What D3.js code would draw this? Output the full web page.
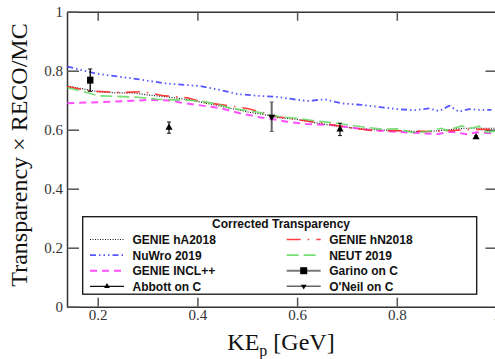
<!DOCTYPE html>
<html>
<head>
<meta charset="utf-8">
<script src="https://cdn.jsdelivr.net/npm/d3@7"></script>
<style>
  html, body { margin: 0; padding: 0; background: #fff; }
  svg { display: block; }
</style>
</head>
<body>
<div id="chart"></div>
<script>
// Curves: [KE_p (GeV), transparency x RECO/MC]
const genieHA2018 = [[0.139,0.748],[0.175,0.737],[0.2,0.729],[0.235,0.725],[0.27,0.725],[0.3,0.718],[0.335,0.712],[0.385,0.701],[0.425,0.687],[0.465,0.673],[0.505,0.659],[0.545,0.648],[0.56,0.641],[0.595,0.636],[0.635,0.624],[0.67,0.614],[0.705,0.607],[0.745,0.601],[0.77,0.599],[0.8,0.596],[0.855,0.593],[0.9,0.599],[0.935,0.605],[0.965,0.605],[1.0,0.605]];
const nuwro2019 = [[0.139,0.814],[0.2,0.789],[0.27,0.774],[0.335,0.757],[0.405,0.748],[0.445,0.735],[0.48,0.721],[0.52,0.715],[0.56,0.711],[0.62,0.697],[0.655,0.703],[0.69,0.689],[0.73,0.684],[0.77,0.676],[0.8,0.67],[0.835,0.666],[0.865,0.672],[0.885,0.663],[0.905,0.681],[0.925,0.661],[0.945,0.67],[0.965,0.667],[0.99,0.667]];
const genieINCL = [[0.139,0.69],[0.2,0.693],[0.27,0.698],[0.3,0.701],[0.35,0.699],[0.365,0.692],[0.4,0.684],[0.445,0.673],[0.485,0.656],[0.525,0.642],[0.56,0.633],[0.58,0.627],[0.62,0.619],[0.67,0.616],[0.71,0.607],[0.745,0.599],[0.8,0.593],[0.85,0.588],[0.88,0.585],[0.91,0.593],[0.94,0.585],[0.96,0.591],[0.99,0.588]];
const genieHN2018 = [[0.139,0.746],[0.185,0.731],[0.25,0.726],[0.29,0.729],[0.33,0.716],[0.38,0.708],[0.415,0.692],[0.46,0.682],[0.5,0.672],[0.535,0.657],[0.56,0.644],[0.6,0.634],[0.64,0.625],[0.67,0.617],[0.7,0.608],[0.745,0.598],[0.78,0.597],[0.82,0.596],[0.87,0.594],[0.91,0.597],[0.95,0.601],[1.0,0.601]];
const neut2019 = [[0.139,0.742],[0.175,0.728],[0.2,0.715],[0.24,0.713],[0.28,0.71],[0.32,0.703],[0.355,0.701],[0.405,0.698],[0.43,0.69],[0.47,0.672],[0.52,0.66],[0.565,0.644],[0.6,0.639],[0.64,0.629],[0.68,0.622],[0.73,0.61],[0.77,0.602],[0.8,0.603],[0.83,0.591],[0.86,0.593],[0.89,0.605],[0.9,0.597],[0.93,0.613],[0.95,0.605],[0.965,0.612],[0.98,0.591],[1.0,0.596]];

// Measurements
const abbottKE = [0.343, 0.686, 0.959];
const abbottVal = [0.607, 0.601, 0.575];
const abbottErr = [0.019, 0.021, 0.004];
const garinoKE = [0.185];
const garinoVal = [0.768];
const garinoErr = [0.038];
const oneilKE = [0.549];
const oneilVal = [0.644];
const oneilErr = [0.05];

const xTicks = [0.2, 0.4, 0.6, 0.8, 1.0];
const yTicks = [0, 0.2, 0.4, 0.6, 0.8, 1.0];
const legendTitle = "Corrected Transparency";

const W = 495, H = 359;
const plot = { left: 67, right: 496.5, top: 11.7, bottom: 306.7 };

const svg = d3.select("#chart").append("svg")
  .attr("width", W).attr("height", H);

const x = d3.scaleLinear().domain([0.1384, 1.0]).range([plot.left, plot.right]);
const y = d3.scaleLinear().domain([0, 1]).range([plot.bottom, plot.top]);

svg.append("defs").append("clipPath").attr("id", "clip")
  .append("rect")
  .attr("x", plot.left).attr("y", plot.top)
  .attr("width", plot.right - plot.left).attr("height", plot.bottom - plot.top);

// axes, ROOT style: ticks point inward
const tickColor = "#555";
function styleAxis(g) {
  g.select(".domain").attr("stroke", "#333").attr("stroke-width", 1.5);
  g.selectAll(".tick line").attr("stroke", tickColor).attr("stroke-width", 1.5);
  g.selectAll(".tick text")
    .attr("fill", "#333")
    .attr("font-family", "'Liberation Serif', 'DejaVu Serif', serif")
    .attr("font-size", 15);
}

svg.append("g")
  .attr("transform", `translate(0,${plot.bottom})`)
  .call(d3.axisBottom(x).tickValues(xTicks).tickSizeInner(-9).tickSizeOuter(0)
    .tickPadding(3).tickFormat(d3.format("~g")))
  .call(styleAxis);

svg.append("g")
  .attr("transform", `translate(0,${plot.top})`)
  .call(d3.axisTop(x).tickValues(xTicks).tickSizeInner(-9).tickSizeOuter(0).tickFormat(""))
  .call(styleAxis);

svg.append("g")
  .attr("transform", `translate(${plot.left},0)`)
  .call(d3.axisLeft(y).tickValues(yTicks).tickSizeInner(-12).tickSizeOuter(0)
    .tickPadding(4).tickFormat(d3.format("~g")))
  .call(styleAxis);

svg.append("g")
  .attr("transform", `translate(${plot.right},0)`)
  .call(d3.axisRight(y).tickValues(yTicks.slice(1, -1)).tickSizeInner(-11).tickSizeOuter(0).tickFormat(""))
  .call(styleAxis);

// axis titles
svg.append("text")
  .attr("x", 281).attr("y", 350)
  .attr("text-anchor", "middle")
  .attr("font-family", "'Liberation Serif', 'DejaVu Serif', serif")
  .attr("font-size", 24)
  .attr("fill", "#111")
  .call(t => {
    t.append("tspan").text("KE");
    t.append("tspan").attr("font-size", 16).attr("dy", 6).text("p");
    t.append("tspan").attr("dy", -6).text(" [GeV]");
  });

svg.append("text")
  .attr("transform", "translate(27,155) rotate(-90)")
  .attr("text-anchor", "middle")
  .attr("font-family", "'Liberation Serif', 'DejaVu Serif', serif")
  .attr("font-size", 24)
  .attr("fill", "#111")
  .text("Transparency \u00d7 RECO/MC");

// series styles
const styles = {
  hA: { stroke: "#000", width: 1.2, dash: "1,1.5", opacity: 0.9 },
  nuwro: { stroke: "#3a3aff", width: 1.8, dash: "6,3,1.5,3,1.5,3,1.5,3", opacity: 0.85 },
  incl: { stroke: "#ff3cff", width: 2, dash: "7,5", opacity: 0.9 },
  hN: { stroke: "#ff2a2a", width: 1.6, dash: "14,7,1.5,7", opacity: 0.9 },
  neut: { stroke: "#5fd85f", width: 1.6, dash: "12,5", opacity: 0.85 }
};

const line = d3.line().x(d => x(d[0])).y(d => y(d[1]));
const curves = svg.append("g").attr("clip-path", "url(#clip)");

[[genieHA2018, styles.hA], [nuwro2019, styles.nuwro], [genieINCL, styles.incl],
 [genieHN2018, styles.hN], [neut2019, styles.neut]].forEach(([data, s]) => {
  curves.append("path")
    .datum(data)
    .attr("fill", "none")
    .attr("stroke", s.stroke)
    .attr("stroke-width", s.width)
    .attr("stroke-dasharray", s.dash)
    .attr("stroke-opacity", s.opacity)
    .attr("d", line);
});

// markers
const triUp = d3.symbol().type(d3.symbolTriangle).size(22);
function drawPoints(kes, vals, errs, opts) {
  const g = svg.append("g");
  kes.forEach((k, i) => {
    const cx = x(k), cy = y(vals[i]);
    const y0 = y(vals[i] - errs[i]), y1 = y(vals[i] + errs[i]);
    g.append("line")
      .attr("x1", cx).attr("x2", cx).attr("y1", y0).attr("y2", y1)
      .attr("stroke", opts.barColor).attr("stroke-width", opts.barWidth);
    [y0, y1].forEach(yy => g.append("line")
      .attr("x1", cx - 2).attr("x2", cx + 2).attr("y1", yy).attr("y2", yy)
      .attr("stroke", opts.barColor).attr("stroke-width", 1));
    if (opts.shape === "square") {
      g.append("rect").attr("x", cx - 3.2).attr("y", cy - 3.5)
        .attr("width", 6.4).attr("height", 7).attr("fill", "#000");
    } else {
      g.append("path").attr("d", triUp)
        .attr("transform", `translate(${cx},${cy})` + (opts.shape === "down" ? " rotate(180)" : ""))
        .attr("fill", "#000");
    }
  });
}
drawPoints(abbottKE, abbottVal, abbottErr, { shape: "up", barColor: "#111", barWidth: 1.2 });
drawPoints(garinoKE, garinoVal, garinoErr, { shape: "square", barColor: "#111", barWidth: 1.4 });
drawPoints(oneilKE, oneilVal, oneilErr, { shape: "down", barColor: "#666", barWidth: 2 });

// legend
const leg = svg.append("g");
leg.append("rect")
  .attr("x", 82.7).attr("y", 216.7).attr("width", 394).attr("height", 77.5)
  .attr("fill", "#fff").attr("stroke", "#111").attr("stroke-width", 1.3);

leg.append("text")
  .attr("x", 281).attr("y", 228)
  .attr("text-anchor", "middle")
  .attr("font-family", "'Liberation Sans', Arial, sans-serif")
  .attr("font-weight", "bold").attr("font-size", 12)
  .attr("fill", "#111")
  .text(legendTitle);

const legendItems = [
  { name: "GENIE hA2018", col: 0, row: 0, style: styles.hA },
  { name: "NuWro 2019", col: 0, row: 1, style: styles.nuwro },
  { name: "GENIE INCL++", col: 0, row: 2, style: styles.incl },
  { name: "Abbott on C", col: 0, row: 3, marker: "up", lineColor: "#111", lineWidth: 1.2 },
  { name: "GENIE hN2018", col: 1, row: 0, style: styles.hN },
  { name: "NEUT 2019", col: 1, row: 1, style: styles.neut },
  { name: "Garino on C", col: 1, row: 2, marker: "square", lineColor: "#777", lineWidth: 2 },
  { name: "O'Neil on C", col: 1, row: 3, marker: "down", lineColor: "#666", lineWidth: 1.4 }
];
const colX = [90, 286.7];
const sampleW = 34;

legendItems.forEach(it => {
  const base = 244 + it.row * 15.6;
  const ly = base - 4.5;
  const x0 = colX[it.col];
  if (it.style) {
    leg.append("line")
      .attr("x1", x0).attr("x2", x0 + sampleW).attr("y1", ly).attr("y2", ly)
      .attr("stroke", it.style.stroke).attr("stroke-width", it.style.width)
      .attr("stroke-dasharray", it.style.dash).attr("stroke-opacity", it.style.opacity);
  } else {
    leg.append("line")
      .attr("x1", x0).attr("x2", x0 + sampleW).attr("y1", ly).attr("y2", ly)
      .attr("stroke", it.lineColor).attr("stroke-width", it.lineWidth);
    const cx = x0 + sampleW / 2;
    if (it.marker === "square") {
      leg.append("rect").attr("x", cx - 3.5).attr("y", ly - 3.5)
        .attr("width", 7).attr("height", 7).attr("fill", "#000");
    } else {
      leg.append("path").attr("d", d3.symbol().type(d3.symbolTriangle).size(14))
        .attr("transform", `translate(${cx},${ly})` + (it.marker === "down" ? " rotate(180)" : ""))
        .attr("fill", "#000");
    }
  }
  leg.append("text")
    .attr("x", x0 + sampleW + 8.5).attr("y", base)
    .attr("font-family", "'Liberation Sans', Arial, sans-serif")
    .attr("font-weight", "bold").attr("font-size", 12)
    .attr("fill", "#111")
    .text(it.name);
});
</script>
</body>
</html>
